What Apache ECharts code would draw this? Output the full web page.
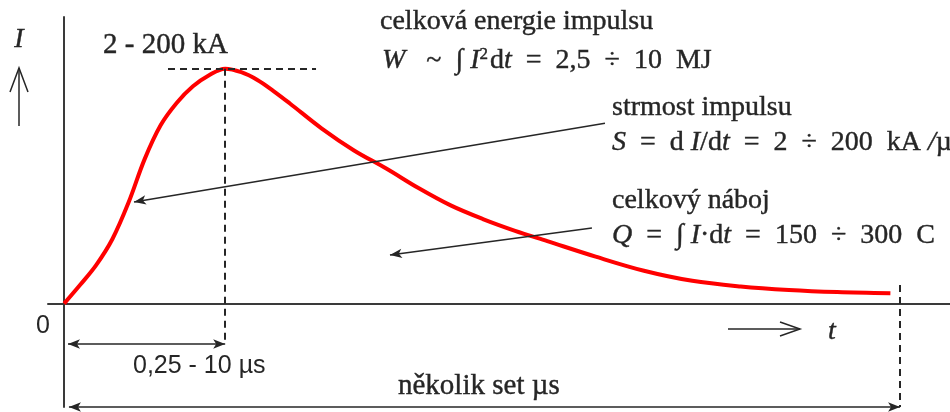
<!DOCTYPE html>
<html>
<head>
<meta charset="utf-8">
<script src="https://cdn.jsdelivr.net/npm/echarts@6/dist/echarts.min.js"></script>
<style>
  html, body { margin: 0; padding: 0; background: #ffffff; }
  #chart { width: 950px; height: 412px; }
</style>
</head>
<body>
<div id="chart"></div>
<script>
// Lightning current impulse, normalised: time as t / t_peak, current as I / I_max
const timeNorm = [0, 0.1, 0.2, 0.3, 0.4, 0.5, 0.6, 0.7, 0.8, 0.9, 1.0,
  1.1, 1.2, 1.3, 1.4, 1.6, 1.8, 2.0, 2.2, 2.4, 2.6, 2.8, 3.0, 3.3, 3.6, 3.9,
  4.2, 4.5, 4.8, 5.13];
const currentNorm = [0, 0.08, 0.165, 0.275, 0.43, 0.615, 0.76, 0.855, 0.925, 0.972, 1.0,
  0.985, 0.952, 0.905, 0.853, 0.745, 0.652, 0.575, 0.492, 0.418, 0.36, 0.31, 0.266, 0.2, 0.14, 0.097,
  0.073, 0.058, 0.049, 0.044];

// Characteristic points of the impulse
const peakTime = 1.0;
const peakCurrent = 1.0;
const impulseEnd = 5.19;          // end of the tail ("několik set µs")
const frontArrowLevel = -0.172;   // level of the front-time dimension arrow
const totalArrowLevel = -0.44;    // level of the total-duration dimension arrow
const peakGuideFrom = 0.645, peakGuideTo = 1.564;
// Pointer arrows: [tStart, IStart] -> [tEnd, IEnd]
const slopePointer = [[3.358, 0.768], [0.434, 0.433]];
const chargePointer = [[3.277, 0.322], [2.023, 0.207]];

const curve = timeNorm.map((t, i) => [t, currentNorm[i]]);

const serif = '"Liberation Serif", "DejaVu Serif", serif';
const sans = '"Liberation Sans", Arial, sans-serif';
const ink = '#262626';

const dashed = { color: ink, width: 2, type: [7, 5] };
const thin = { color: ink, width: 1.5, type: 'solid' };

function seg(a, b, s0, s1, style) {
  return [
    { coord: a, symbol: s0, symbolSize: [7, 12], lineStyle: style },
    { coord: b, symbol: s1, symbolSize: [7, 12] }
  ];
}

// text helper: plain serif body text
function label(x, y, text, extra) {
  return {
    type: 'text', x: x, y: y,
    style: Object.assign({
      text: text, fontFamily: serif, fontSize: 28, fill: ink,
      stroke: ink, lineWidth: 0.4,
      align: 'left', verticalAlign: 'middle'
    }, extra || {})
  };
}

// rich fragments for the formulas (zrender text style names)
const base = { fontFamily: serif, fontSize: 28, fill: ink, stroke: ink, lineWidth: 0.4 };
const mathRich = {
  it: Object.assign({}, base, { fontStyle: 'italic' }),
  sy: Object.assign({}, base),
  sup: Object.assign({}, base, { fontSize: 17, padding: [0, 2, 12, 0] })
};

function formula(x, y, text) {
  return { type: 'text', x: x, y: y,
    style: { text: text, rich: mathRich, fontFamily: serif, fontSize: 28, fill: ink,
             align: 'left', verticalAlign: 'middle' } };
}

const chart = echarts.init(document.getElementById('chart'));
chart.setOption({
  animation: false,
  backgroundColor: '#ffffff',
  grid: { left: 48, right: 0, top: 17, bottom: 5 },
  xAxis: {
    type: 'value', min: -0.1, max: 5.5,
    axisLine: { show: true, onZero: true, lineStyle: { color: '#3a3a3a', width: 2 } },
    axisTick: { show: false }, axisLabel: { show: false }, splitLine: { show: false }
  },
  yAxis: {
    type: 'value', min: -0.44, max: 1.22,
    axisLine: { show: true, onZero: true, lineStyle: { color: '#3a3a3a', width: 2 } },
    axisTick: { show: false }, axisLabel: { show: false }, splitLine: { show: false }
  },
  series: [{
    type: 'line',
    data: curve,
    smooth: 0.35,
    showSymbol: false,
    symbol: 'none',
    clip: false,
    silent: true,
    lineStyle: { color: '#ff0000', width: 4 },
    z: 3,
    markLine: {
      silent: true,
      animation: false,
      label: { show: false },
      emphasis: { disabled: true },
      data: [
        seg([peakGuideFrom, peakCurrent], [peakGuideTo, peakCurrent], 'none', 'none', dashed),
        seg([peakTime, peakCurrent], [peakTime, frontArrowLevel], 'none', 'none', dashed),
        seg([impulseEnd, 0.079], [impulseEnd, totalArrowLevel], 'none', 'none', dashed),
        seg([0.024, frontArrowLevel], [peakTime, frontArrowLevel], 'arrow', 'arrow', thin),
        seg([0.03, totalArrowLevel], [impulseEnd, totalArrowLevel], 'arrow', 'arrow', thin),
        seg(slopePointer[0], slopePointer[1], 'none', 'arrow', thin),
        seg(chargePointer[0], chargePointer[1], 'none', 'arrow', thin)
      ]
    }
  }],
  graphic: [
    // current symbol with arrow
    label(19, 40, 'I', { fontStyle: 'italic', align: 'center' }),
    { type: 'line', shape: { x1: 19, y1: 126, x2: 19, y2: 68 }, style: { stroke: ink, lineWidth: 1.5 } },
    { type: 'polyline', shape: { points: [[10, 92], [19, 68], [28, 92]] }, style: { stroke: ink, lineWidth: 1.5, fill: null } },
    // time symbol with arrow
    { type: 'line', shape: { x1: 728, y1: 329, x2: 800, y2: 329 }, style: { stroke: ink, lineWidth: 1.5 } },
    { type: 'polyline', shape: { points: [[780, 322], [800, 329], [780, 336]] }, style: { stroke: ink, lineWidth: 1.5, fill: null } },
    label(832, 332, 't', { fontStyle: 'italic', align: 'center' }),
    // origin
    label(43, 326, '0', { fontFamily: sans, fontSize: 25, align: 'center', lineWidth: 0 }),
    // peak value
    label(103, 45, '2 - 200 kA', { fontSize: 29 }),
    // front time
    label(133, 366, '0,25 - 10 µs', { fontFamily: sans, fontSize: 25, lineWidth: 0 }),
    // total duration
    label(398, 386, 'několik set µs', { fontSize: 29 }),
    // energy
    label(380, 22, 'celková energie impulsu'),
    formula(382, 61, '{it|W}{sy|   ~  ∫ }{it|I}{sup|2}{sy|d}{it|t}{sy|  =  2,5  ÷  10  MJ}'),
    // steepness
    label(612, 108, 'strmost impulsu'),
    formula(612, 143, '{it|S}{sy|  =  d }{it|I}{sy|/d}{it|t}{sy|  =  2  ÷  200  kA }{it|/}{sy|µs}'),
    // charge
    label(612, 201, 'celkový náboj'),
    formula(612, 236, '{it|Q}{sy|  =  ∫ }{it|I}{sy|·d}{it|t}{sy|  =  150  ÷  300  C}')
  ]
});
</script>
</body>
</html>
